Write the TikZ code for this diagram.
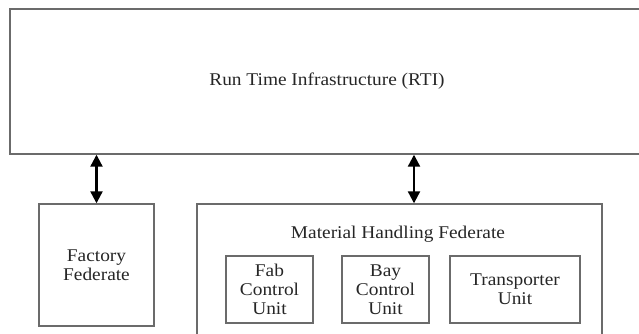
\documentclass[tikz,border=0pt]{standalone}
\usepackage{fontspec}
\setmainfont{Liberation Serif}[FakeStretch=1.08]
\usetikzlibrary{arrows.meta}
\begin{document}
\begin{tikzpicture}[x=1bp,y=-1bp,
  box/.style={draw=black!58,line width=1.4bp,rectangle,inner sep=0pt,align=center,
    font=\fontsize{18}{19}\selectfont,text=black!85},
  lbl/.style={inner sep=0pt,font=\fontsize{18}{19}\selectfont,text=black!85},
  biarrow/.style={line width=2.2bp,{Triangle[length=12bp,width=12bp]}-{Triangle[length=12bp,width=12bp]}}]
\useasboundingbox (0,0) rectangle (639,333);
\node[box,minimum width=634bp,minimum height=145bp] (rti) at (327,81.5) {Run Time Infrastructure (RTI)};
\node[box,minimum width=115bp,minimum height=122bp] (fac) at (96.5,265) {Factory\\Federate};
\node[box,minimum width=405bp,minimum height=150bp] (mhf) at (399.5,279) {};
\node[lbl] (title) at (398,234) {Material Handling Federate};
\node[box,minimum width=87bp,minimum height=67bp] (fab) at (269.5,289.5) {Fab\\Control\\Unit};
\node[box,minimum width=87bp,minimum height=67bp] (bay) at (385.5,289.5) {Bay\\Control\\Unit};
\node[box,minimum width=130bp,minimum height=67bp] (trans) at (515,289.5) {Transporter\\Unit};
\coordinate (a2) at (414,180);
\draw[biarrow] (rti.south -| fac.north) -- (fac.north);
\draw[biarrow] (rti.south -| a2) -- (mhf.north -| a2);
\end{tikzpicture}
\end{document}
